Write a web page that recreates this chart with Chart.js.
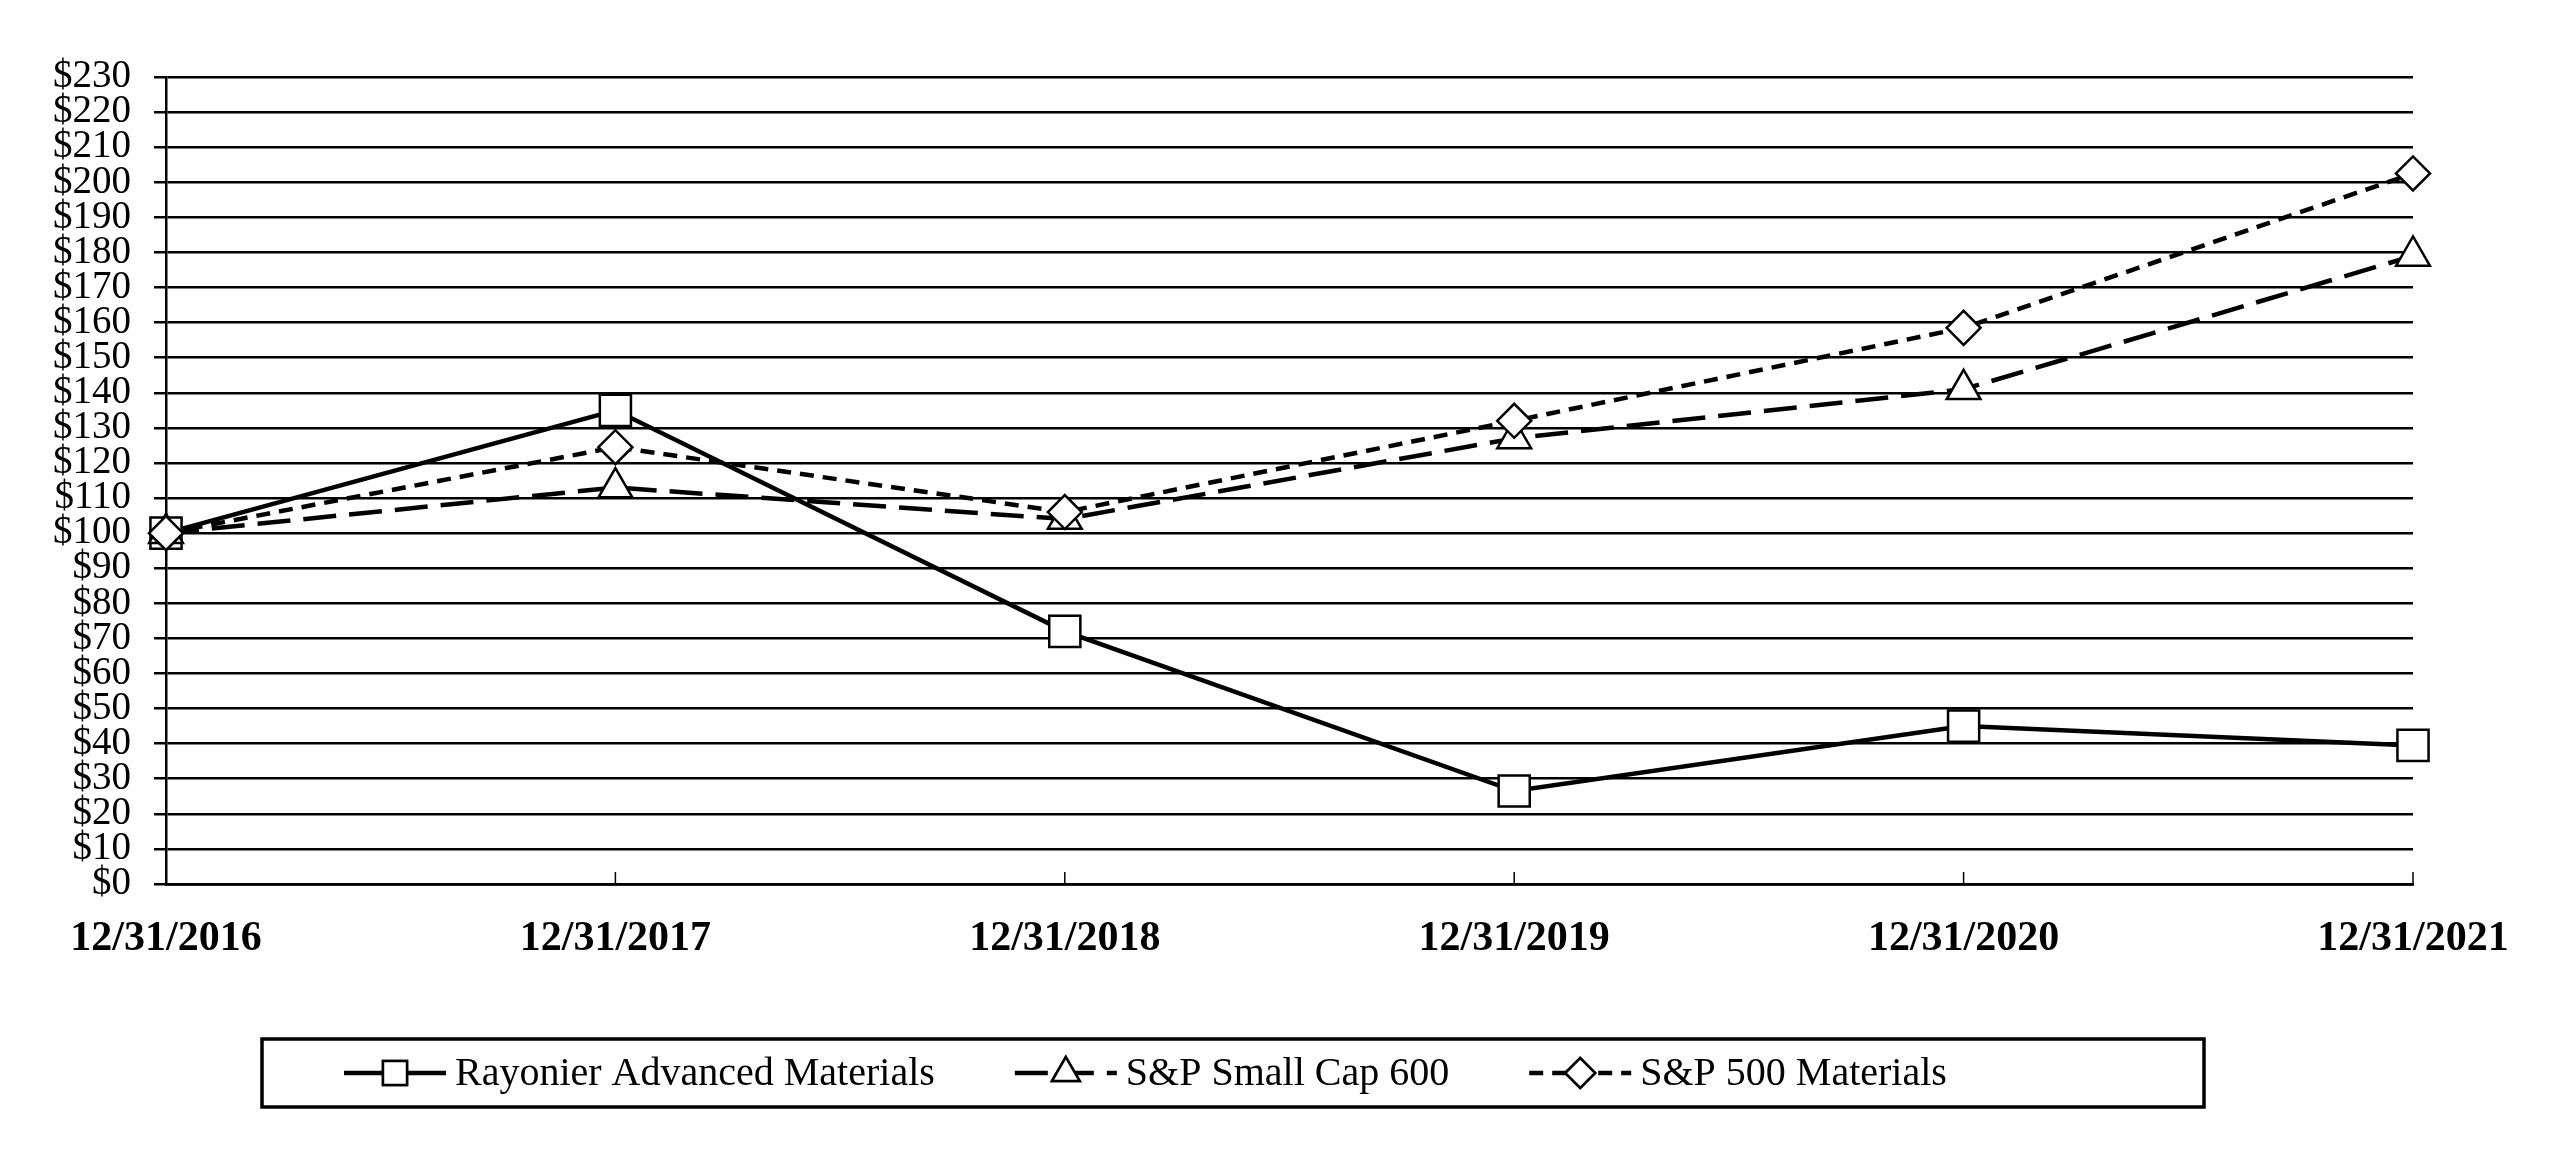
<!DOCTYPE html>
<html>
<head>
<meta charset="utf-8">
<script src="https://cdn.jsdelivr.net/npm/chart.js@4.4.1/dist/chart.umd.min.js"></script>
<style>
  html, body { margin: 0; padding: 0; background: #fff; }
  #wrap { width: 2558px; height: 1174px; position: relative; }
</style>
</head>
<body>
<div id="wrap"><canvas id="perfChart"></canvas></div>
<script>
// values
const years = ['12/31/2016', '12/31/2017', '12/31/2018', '12/31/2019', '12/31/2020', '12/31/2021'];
const rayonier = [100, 135, 72, 26.5, 45, 39.5];
const smallCap600 = [100, 113, 104, 127, 141, 179];
const sp500Materials = [100, 124.5, 106, 132, 158.5, 202.5];
const yTicks = { min: 0, max: 230, step: 10 };
const seriesNames = ['Rayonier Advanced Materials', 'S&P Small Cap 600', 'S&P 500 Materials'];

const FONT = 'Liberation Serif, "Times New Roman", serif';
Chart.defaults.font.family = FONT;
Chart.defaults.color = '#000';

// short tick marks pointing up from the x axis
const xTickMarks = {
    id: 'xTickMarks',
    afterDraw(chart) {
        const ctx = chart.ctx;
        const x = chart.scales.x;
        ctx.save();
        ctx.strokeStyle = '#000';
        ctx.lineWidth = 1.5;
        x.ticks.forEach((t, i) => {
            const px = x.getPixelForTick(i);
            ctx.beginPath();
            ctx.moveTo(px, x.top - 12);
            ctx.lineTo(px, x.top);
            ctx.stroke();
        });
        ctx.restore();
    }
};

// legend in a framed box: line sample + marker + name
const boxedLegend = {
    id: 'boxedLegend',
    afterDraw(chart) {
        const ctx = chart.ctx;
        const box = { left: 262, top: 1039, right: 2204, bottom: 1107 };
        const cy = (box.top + box.bottom) / 2;
        ctx.save();
        ctx.strokeStyle = '#000';
        ctx.lineWidth = 3.5;
        ctx.strokeRect(box.left, box.top, box.right - box.left, box.bottom - box.top);

        ctx.font = '40px ' + FONT;
        ctx.fillStyle = '#000';
        ctx.textBaseline = 'middle';
        ctx.textAlign = 'left';

        const legendSizes = [17, 16, 15];
        let x = 344;
        chart.data.datasets.forEach((ds, i) => {
            const lineLen = 102;
            ctx.save();
            ctx.lineWidth = ds.borderWidth;
            ctx.setLineDash(ds.borderDash || []);
            ctx.beginPath();
            ctx.moveTo(x, cy);
            ctx.lineTo(x + lineLen, cy);
            ctx.stroke();
            ctx.restore();

            ctx.save();
            ctx.fillStyle = '#fff';
            ctx.strokeStyle = '#000';
            ctx.lineWidth = 2.5;
            Chart.helpers.drawPoint(ctx, {
                pointStyle: ds.pointStyle,
                radius: legendSizes[i],
                rotation: 0,
                borderWidth: 2.5
            }, x + lineLen / 2, cy);
            ctx.fill();
            ctx.stroke();
            ctx.restore();

            const tx = x + lineLen + 9;
            ctx.fillText(ds.label, tx, cy + 1);
            x = tx + ctx.measureText(ds.label).width + 80;
        });
        ctx.restore();
    }
};

const ctx = document.getElementById('perfChart').getContext('2d');
const perfChart = new Chart(ctx, {
    type: 'line',
    data: {
        labels: years,
        datasets: [
            {
                label: seriesNames[0],
                data: rayonier,
                borderColor: '#000',
                borderWidth: 4.5,
                pointStyle: 'rect',
                pointRadius: 22,
                pointHoverRadius: 22,
                pointBackgroundColor: '#fff',
                pointBorderColor: '#000',
                pointBorderWidth: 2.5,
                tension: 0,
                clip: false,
                order: 2
            },
            {
                label: seriesNames[1],
                data: smallCap600,
                borderColor: '#000',
                borderWidth: 4.5,
                borderDash: [33, 13],
                pointStyle: 'triangle',
                pointRadius: 19.5,
                pointHoverRadius: 19.5,
                pointBackgroundColor: '#fff',
                pointBorderColor: '#000',
                pointBorderWidth: 2.5,
                tension: 0,
                clip: false,
                order: 1
            },
            {
                label: seriesNames[2],
                data: sp500Materials,
                borderColor: '#000',
                borderWidth: 4.5,
                borderDash: [14, 9],
                pointStyle: 'rectRot',
                pointRadius: 17,
                pointHoverRadius: 17,
                pointBackgroundColor: '#fff',
                pointBorderColor: '#000',
                pointBorderWidth: 2.5,
                tension: 0,
                clip: false,
                order: 0
            }
        ]
    },
    options: {
        responsive: true,
        maintainAspectRatio: false,
        animation: false,
        devicePixelRatio: 1,
        layout: { padding: { left: 0, right: 145, top: 77, bottom: 190 } },
        plugins: {
            legend: { display: false },
            tooltip: { enabled: false }
        },
        scales: {
            x: {
                offset: false,
                grid: { display: true, drawOnChartArea: false, drawTicks: false },
                border: { display: true, color: '#000', width: 2.8 },
                ticks: {
                    font: { size: 42, weight: 'bold' },
                    color: '#000',
                    padding: 30,
                    maxRotation: 0,
                    autoSkip: false
                },
                afterFit(scale) { scale.height = 100; }
            },
            y: {
                min: yTicks.min,
                max: yTicks.max,
                grid: { color: '#000', lineWidth: 2.5, tickLength: 12, drawTicks: true },
                border: { display: true, color: '#000', width: 2.5 },
                ticks: {
                    stepSize: yTicks.step,
                    autoSkip: false,
                    font: { size: 39 },
                    color: '#000',
                    padding: 23,
                    callback: v => '$' + v
                },
                afterFit(scale) { scale.width = 166; }
            }
        }
    },
    plugins: [xTickMarks, boxedLegend]
});
</script>
</body>
</html>
